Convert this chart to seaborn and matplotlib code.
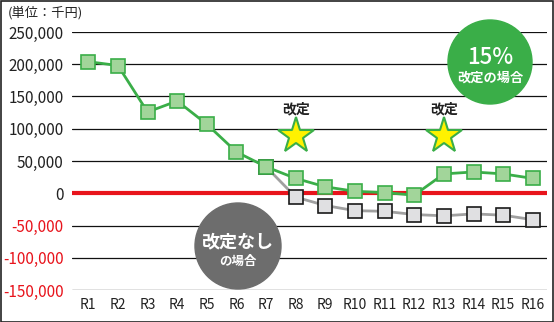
import matplotlib
matplotlib.use("Agg")
import matplotlib.pyplot as plt
from matplotlib.patches import Circle
import numpy as np
import pandas as pd
import seaborn as sns

periods = ["R1", "R2", "R3", "R4", "R5", "R6", "R7", "R8", "R9", "R10",
           "R11", "R12", "R13", "R14", "R15", "R16"]
revised_15 = [204000, 198000, 126000, 143000, 107000, 64000, 41000, 23000,
              10000, 3000, 1000, -3000, 30000, 33000, 30000, 23000]
no_revision = [np.nan, np.nan, np.nan, np.nan, np.nan, np.nan, 41000, -6000,
               -19000, -27000, -28000, -33000, -35000, -32000, -34000, -41000]
revision_periods = ["R8", "R13"]
star_level = 88000
yticks = [250000, 200000, 150000, 100000, 50000, 0, -50000, -100000, -150000]

sns.set_theme(style="white")
plt.rcParams['font.family'] = ['Noto Sans CJK JP', 'DejaVu Sans']

W, H = 554, 322
fig = plt.figure(figsize=(W / 100, H / 100), dpi=100)
ax = fig.add_axes([72 / W, (H - 290) / H, (547 - 72) / W, (290 - 32) / H])

idx = list(range(len(periods)))
df_g = pd.DataFrame({"x": idx, "v": revised_15})
df_n = pd.DataFrame({"x": idx, "v": no_revision}).dropna()

for y in yticks:
    if y != 0:
        ax.axhline(y, color="#111111", lw=0.9, zorder=1)
ax.axhline(0, color="#e8141c", lw=3, zorder=2)

sns.lineplot(data=df_n, x="x", y="v", ax=ax, color="#a0a0a0", lw=2,
             marker="s", markersize=9.5, markerfacecolor="#e0e0e2",
             markeredgecolor="#1a1a1a", markeredgewidth=1.2, zorder=3)
sns.lineplot(data=df_g, x="x", y="v", ax=ax, color="#3aae48", lw=2,
             marker="s", markersize=9.5, markerfacecolor="#a2d59a",
             markeredgecolor="#3aae48", markeredgewidth=1.2, zorder=4)

for p in revision_periods:
    xi = periods.index(p)
    ax.plot([xi], [star_level], marker="*", markersize=27, color="#fff200",
            markeredgecolor="#3aae48", markeredgewidth=1.5, zorder=5)
    ax.text(xi, 130000, "改定", ha="center", va="center", fontsize=10,
            fontweight="bold", color="#222222", zorder=5)

ax.set_xlim(-0.55, 15.48)
ax.set_ylim(-150000, 250000)
ax.set_xticks(idx)
ax.set_xticklabels(periods, fontsize=10, color="#222222")
ax.set_yticks(yticks)
ax.set_yticklabels([f"{v:,}" for v in yticks], fontsize=11)
for lab, v in zip(ax.get_yticklabels(), yticks):
    lab.set_color("#e8141c" if v < 0 else "#222222")
ax.tick_params(axis="both", length=0, pad=6)
ax.set_xlabel("")
ax.set_ylabel("")
for s in ax.spines.values():
    s.set_visible(False)

# annotation circles (in inches)
tr = fig.dpi_scale_trans
gx, gy = 490, 62
c1 = Circle((gx / 100, (H - gy) / 100), 0.42, transform=tr, color="#3aae48",
            zorder=6, clip_on=False)
ax.add_patch(c1)
fig.text(gx / W, (H - 58) / H, "15%", ha="center", va="center",
         fontsize=16, fontweight="medium", color="white", zorder=7)
fig.text(gx / W, (H - 78) / H, "改定の場合", ha="center", va="center",
         fontsize=9.5, fontweight="bold", color="white", zorder=7)

nx, ny = 238, 246
c2 = Circle((nx / 100, (H - ny) / 100), 0.43, transform=tr, color="#6d6d6d",
            zorder=6, clip_on=False)
ax.add_patch(c2)
fig.text(nx / W, (H - 242) / H, "改定なし", ha="center", va="center",
         fontsize=13, fontweight="bold", color="white", zorder=7)
fig.text(nx / W, (H - 261) / H, "の場合", ha="center", va="center",
         fontsize=9, fontweight="bold", color="white", zorder=7)

fig.text(8 / W, (H - 13) / H, "(単位：千円)", ha="left", va="center",
         fontsize=9.5, color="#222222")

border = plt.Rectangle((0.5 / W, 0.5 / H), 1 - 1.5 / W, 1 - 1.5 / H,
                       transform=fig.transFigure, fill=False,
                       edgecolor="#222222", lw=1.2)
fig.patches.append(border)

fig.savefig("out.png", dpi=100)
